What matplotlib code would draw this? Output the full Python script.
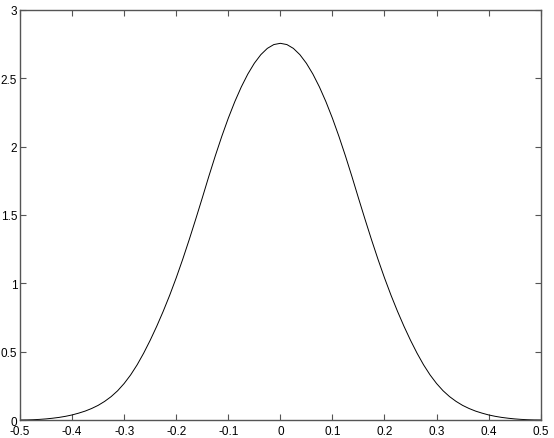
import matplotlib
matplotlib.use("Agg")
import matplotlib.pyplot as plt
import numpy as np

# values (curve is symmetric around 0, so only x >= 0 is listed)
x_half = [0.0, 0.0125, 0.025, 0.0375, 0.05, 0.0625, 0.075, 0.0875, 0.1, 0.1125,
          0.125, 0.1375, 0.15, 0.1625, 0.175, 0.1875, 0.2, 0.2125, 0.225, 0.2375,
          0.25, 0.2625, 0.275, 0.2875, 0.3, 0.3125, 0.325, 0.3375, 0.35, 0.3625,
          0.375, 0.3875, 0.4, 0.4125, 0.425, 0.4375, 0.45, 0.4625, 0.475, 0.4875, 0.5]
y_half = [2.756, 2.747, 2.719, 2.673, 2.61, 2.531, 2.437, 2.329, 2.208, 2.075,
          1.932, 1.781, 1.624, 1.47, 1.32, 1.176, 1.04, 0.913, 0.795, 0.685,
          0.583, 0.489, 0.404, 0.33, 0.267, 0.214, 0.171, 0.136, 0.107, 0.084,
          0.065, 0.05, 0.037, 0.027, 0.019, 0.013, 0.008, 0.0045, 0.002, 0.0006, 0.0]

x_ticks = [-0.5, -0.4, -0.3, -0.2, -0.1, 0, 0.1, 0.2, 0.3, 0.4, 0.5]
x_labels = ["-0.5", "-0.4", "-0.3", "-0.2", "-0.1", "0", "0.1", "0.2", "0.3", "0.4", "0.5"]
y_ticks = [0, 0.5, 1, 1.5, 2, 2.5, 3]
y_labels = ["0", "0.5", "1", "1.5", "2", "2.5", "3"]

# mirror the half curve to the negative side
x = np.concatenate([-np.array(x_half[:0:-1]), x_half])
y = np.concatenate([y_half[:0:-1], y_half])

plt.rcParams["font.family"] = ["Liberation Sans", "DejaVu Sans"]
plt.rcParams["axes.unicode_minus"] = False

fig = plt.figure(figsize=(5.54, 4.39), dpi=100)
ax = fig.add_axes([0.0361, 0.041, 0.976 - 0.0361, 0.975 - 0.041])

ax.plot(x, y, color="black", linewidth=0.7)

ax.set_xlim(-0.5, 0.5)
ax.set_ylim(0, 3)
ax.set_xticks(x_ticks)
ax.set_xticklabels(x_labels)
ax.set_yticks(y_ticks)
ax.set_yticklabels(y_labels)

ax.tick_params(direction="in", top=True, right=True, length=4, width=0.8,
               color="#555555", labelsize=8.5)
ax.tick_params(axis="x", pad=3.5)
ax.tick_params(axis="y", pad=2)
for s in ax.spines.values():
    s.set_color("#555555")
    s.set_linewidth(1.0)

fig.savefig("out.png", dpi=100)
